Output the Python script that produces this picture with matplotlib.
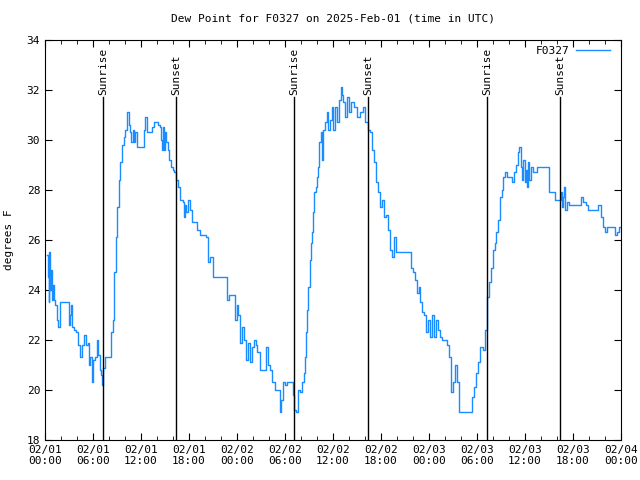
import numpy as np
import matplotlib
matplotlib.use("Agg")
import matplotlib.pyplot as plt
from matplotlib.ticker import MultipleLocator

# Hours since 2025-02-01 00:00 UTC and dew point (F)
hours = [0.25, 0.375, 0.44, 0.5, 0.625, 0.75, 0.875, 1.0, 1.125, 1.25, 1.5, 1.625, 1.875,
         2.875, 3.0, 3.125, 3.25, 3.375, 3.625, 3.875, 4.125, 4.375, 4.625, 4.875, 5.125,
         5.375, 5.5, 5.625, 5.875, 6.0, 6.25, 6.5, 6.625, 6.875, 7.0, 7.125, 7.25, 7.5, 8.125,
         8.25, 8.5, 8.625, 8.875, 9.0, 9.25, 9.375, 9.625, 9.875, 10.0, 10.25, 10.5, 10.625,
         10.75, 11.0, 11.125, 11.25, 11.5, 12.25, 12.375, 12.5, 12.75, 13.125, 13.375, 13.625,
         13.875, 14.125, 14.375, 14.5, 14.625, 14.75, 14.875, 15.0, 15.125, 15.375, 15.5,
         15.75, 16.0, 16.125, 16.375, 16.625, 16.875,
         17.125, 17.25, 17.375, 17.5, 17.625, 17.875, 18.125, 18.375, 19.0, 19.375, 20.125,
         20.375, 20.625, 21.0, 22.5, 22.75, 23.0, 23.5, 23.75, 24.0, 24.125, 24.375, 24.625,
         24.875, 25.125, 25.375, 25.625, 25.875, 26.125, 26.375, 26.5, 26.875, 27.5, 27.625,
         27.875, 28.125, 28.375, 28.75, 29.125, 29.375, 29.5, 29.75, 30.0, 30.25, 30.875, 31.0,
         31.125, 31.375, 31.625, 31.875, 32.125, 32.375, 32.5, 32.625, 32.75, 32.875, 33.125,
         33.25, 33.375, 33.5, 33.625, 33.875, 34.0, 34.125, 34.25, 34.5, 34.625, 34.75, 35.0,
         35.25, 35.375, 35.625, 35.875, 36.0, 36.25, 36.5, 36.75, 37.0, 37.125, 37.25, 37.5,
         37.75, 38.0, 38.25, 38.625, 39.0, 39.375, 39.75, 40.0, 40.375, 40.625, 40.875, 41.125,
         41.375, 41.625, 41.875, 42.125, 42.375, 42.625, 42.875, 43.125, 43.375, 43.625,
         43.875, 45.625, 45.75, 46.0, 46.25, 46.5, 46.75, 46.875, 47.125, 47.375, 47.625,
         47.875, 48.125, 48.375, 48.625, 48.875, 49.125, 49.375, 49.625, 50.25, 50.5, 50.75,
         51.0, 51.25, 51.5, 51.75, 53.125, 53.375, 53.625, 53.875, 54.125, 54.375, 54.75, 55.0,
         55.25, 55.5, 55.75, 56.0, 56.25, 56.375, 56.625, 56.875, 57.125, 57.25, 57.5, 57.75,
         58.125, 58.375, 58.625, 58.875, 59.125, 59.25, 59.5, 59.625, 59.75, 60.0, 60.125,
         60.25, 60.375, 60.5, 60.75, 61.0, 61.25, 61.5, 62.875, 63.0, 63.5, 63.75, 64.25, 64.5,
         64.625, 64.75, 64.875, 65.0, 65.25, 65.5, 66.875, 67.0, 67.25, 67.625, 67.875, 68.875,
         69.125, 69.375, 69.5, 69.75, 70.0, 70.25, 70.875, 71.25, 71.5, 71.75, 72.0]
dewpoint = [25.4, 24.5, 23.5, 25.5, 24.0, 24.8, 23.6, 24.2, 23.6, 23.4, 22.8, 22.5, 23.5,
            23.5, 22.6, 23.0, 23.4, 22.5, 22.4, 22.3, 21.8, 21.3, 21.8, 22.2, 21.8,
            21.9, 21.0, 21.3, 20.3, 21.2, 21.3, 22.0, 21.4, 20.8, 20.6, 20.2, 20.9, 21.3, 21.3,
            22.3, 22.8, 24.7, 26.1, 27.3, 28.4, 29.1, 29.8, 30.1, 30.4, 31.1, 30.6, 30.3,
            29.9, 30.4, 29.9, 30.3, 29.7, 29.7, 30.4, 30.9, 30.3, 30.3, 30.5, 30.7,
            30.7, 30.6, 30.5, 30.0, 29.6, 30.5, 29.6, 30.3, 29.9, 29.6, 29.2,
            28.9, 28.8, 28.7, 28.4, 28.1, 27.6,
            27.6, 27.5, 26.9, 27.4, 27.1, 27.6, 27.2, 26.7, 26.4, 26.2, 26.1,
            25.1, 25.3, 24.5, 24.5, 23.6, 23.8, 23.8, 22.8, 23.4, 23.0, 21.9, 22.5,
            22.0, 21.2, 21.9, 21.1, 21.7, 22.0, 21.8, 21.5, 20.8, 20.8, 21.7,
            21.0, 20.8, 20.3, 20.0, 20.0, 19.1, 19.6, 20.3, 20.2, 20.3, 20.3, 19.8,
            19.2, 19.1, 20.0, 19.9, 20.3, 20.7, 21.3, 22.3, 23.2, 24.1, 25.2,
            25.9, 26.3, 27.1, 27.9, 28.1, 28.5, 28.9, 29.9, 30.3, 29.2, 30.4, 30.7,
            31.1, 30.4, 30.8, 31.3, 30.4, 31.3, 30.7, 31.6, 32.1, 31.8, 31.5, 30.9,
            31.7, 31.1, 31.5, 31.3, 30.9, 31.1, 31.3, 30.7, 30.4, 30.3, 29.6, 29.1,
            28.3, 27.9, 27.3, 27.6, 26.9, 27.0, 26.4, 25.6, 25.3, 26.1,
            25.5, 25.5, 24.9, 24.7, 24.4, 23.9, 24.1, 23.5, 23.1, 23.0, 22.3,
            22.8, 22.1, 23.0, 22.1, 22.8, 22.4, 22.1, 22.0, 21.8, 21.3, 19.9,
            20.3, 21.0, 20.3, 19.1, 19.1, 19.7, 20.1, 20.7, 21.1, 21.7, 21.6, 22.4,
            23.7, 24.3, 24.9, 25.6, 25.9, 26.3, 26.8, 27.7, 28.0, 28.5, 28.7, 28.5,
            28.5, 28.3, 28.7, 29.0, 29.5, 29.7, 28.9, 28.4, 29.2, 28.3, 28.8,
            28.1, 29.1, 28.4, 28.9, 28.7, 28.7, 28.9, 28.9, 27.9, 27.9, 27.6, 27.6, 27.9,
            27.3, 27.7, 28.1, 27.2, 27.5, 27.4, 27.4, 27.7, 27.5, 27.4, 27.2, 27.2,
            27.4, 27.4, 26.9, 26.5, 26.3, 26.5, 26.5, 26.2, 26.3, 26.5, 26.5]

sunrise = [7.25, 31.1, 55.25]
sunset = [16.4, 40.4, 64.4]

xtick_pos = [0, 6, 12, 18, 24, 30, 36, 42, 48, 54, 60, 66, 72]
xtick_labels = ["02/01\n00:00", "02/01\n06:00", "02/01\n12:00", "02/01\n18:00",
                "02/02\n00:00", "02/02\n06:00", "02/02\n12:00", "02/02\n18:00",
                "02/03\n00:00", "02/03\n06:00", "02/03\n12:00", "02/03\n18:00",
                "02/04\n00:00"]

plt.rcParams['font.family'] = 'DejaVu Sans Mono'
plt.rcParams['font.size'] = 8

fig = plt.figure(figsize=(6.4, 4.8), dpi=100)
ax = fig.add_axes([45/640, 40/480, 576/640, 400/480])

ax.plot(hours, dewpoint, color="#1a8cff", linewidth=1.0, drawstyle="steps-post", label="F0327")

# sunrise / sunset markers, label sits just above the line
for h in sunrise:
    ax.plot([h, h], [18, 31.7], color="black", linewidth=1.0)
    ax.text(h, 31.8, "Sunrise", rotation=90, ha="center", va="bottom", fontsize=8)
for h in sunset:
    ax.plot([h, h], [18, 31.7], color="black", linewidth=1.0)
    ax.text(h, 31.8, "Sunset", rotation=90, ha="center", va="bottom", fontsize=8)

ax.set_xlim(0, 72)
ax.set_ylim(18, 34)
ax.set_xticks(xtick_pos)
ax.set_xticklabels(xtick_labels)
ax.xaxis.set_minor_locator(MultipleLocator(2))
ax.set_yticks(np.arange(18, 35, 2))
ax.tick_params(which="both", direction="in", top=True, right=True, labelsize=8)
ax.tick_params(which="major", length=5)
ax.tick_params(which="minor", length=3)

ax.set_title("Dew Point for F0327 on 2025-Feb-01 (time in UTC)", fontsize=8, pad=13)
ax.set_ylabel("degrees F", fontsize=8, labelpad=9)
ax.legend(loc="upper right", bbox_to_anchor=(0.984, 0.99), frameon=False,
          handlelength=3.0, markerfirst=False, fontsize=8, borderaxespad=0.0,
          borderpad=0.2, handletextpad=0.6)

fig.savefig("out.png", dpi=100)
